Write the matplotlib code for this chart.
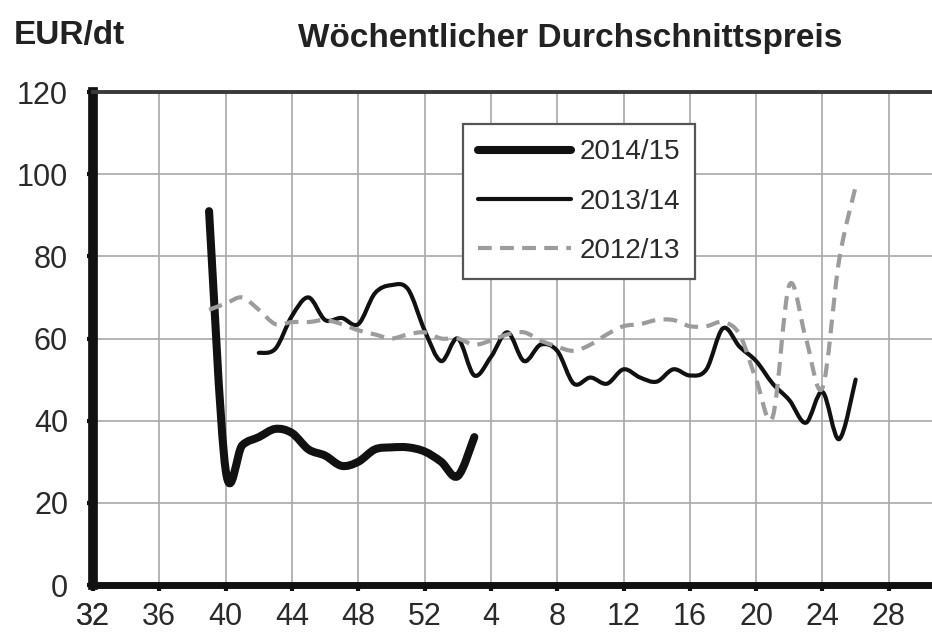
import numpy as np
import matplotlib.pyplot as plt
from matplotlib.path import Path
from matplotlib.patches import PathPatch
from matplotlib.lines import Line2D

plt.rcParams['font.family'] = ['Liberation Sans', 'DejaVu Sans']

# Kalenderwochen, Saison von KW 32 bis KW 30 des Folgejahres
weeks_1415 = [39, 40, 41, 42, 43, 44, 45, 46, 47, 48, 49, 50, 51, 52, 1, 2, 3]
price_1415 = [91, 28, 34, 36, 38, 37, 33, 31.5, 29, 30, 33, 33.5, 33.5, 32.5, 30, 26.5, 36]

weeks_1314 = list(range(42, 53)) + list(range(1, 27))
price_1314 = [56.5, 57.5, 65.5, 70, 64.5, 65, 63.5, 71, 73, 72, 62,
              54.5, 60, 51, 55.5, 61.5, 54.5, 58.5, 57, 49, 50.5, 49, 52.5, 50.5,
              49.5, 52.5, 51, 52.5, 62.5, 58, 54.5, 49, 45, 39.5, 47, 35.5, 50]

weeks_1213 = list(range(39, 53)) + list(range(1, 27))
price_1213 = [67, 68.5, 70, 67, 63.5, 64, 64, 64.5, 63.5, 62, 61, 60, 61, 61.5,
              60, 60, 58.5, 59.5, 61, 61.5, 59.5, 58, 57, 58.5, 61, 63, 63.5,
              64.5, 64.5, 63, 63, 64, 61, 50, 41, 73, 60, 48, 79, 97]

tick_weeks = [32, 36, 40, 44, 48, 52, 4, 8, 12, 16, 20, 24, 28, 32]
y_ticks = [0, 20, 40, 60, 80, 100, 120]


def season_pos(weeks):
    # Wochen des Folgejahres hinter KW 52 anhaengen
    w = np.asarray(weeks)
    return np.where(w < 32, w + 52, w)


def smooth_path(x, y):
    # geglaettete Linie wie in Excel: Bezier-Segmente durch die Wochenwerte
    p = np.column_stack([x, y]).astype(float)
    ext = np.vstack([p[0], p, p[-1]])
    verts = [p[0]]
    codes = [Path.MOVETO]
    for i in range(len(p) - 1):
        c1 = ext[i + 1] + (ext[i + 2] - ext[i]) / 6.0
        c2 = ext[i + 2] - (ext[i + 3] - ext[i + 1]) / 6.0
        verts += [c1, c2, p[i + 1]]
        codes += [Path.CURVE4] * 3
    return Path(verts, codes)


fig = plt.figure(figsize=(9.32, 6.39), dpi=100)
ax = fig.add_axes([0.0998, 0.0845, 0.925, 0.7715])

styles = [
    (weeks_1415, price_1415, dict(color='#111111', lw=5.8, ls='-'), '2014/15', 3),
    (weeks_1314, price_1314, dict(color='#111111', lw=3.0, ls='-'), '2013/14', 4),
    (weeks_1213, price_1213, dict(color='#9c9c9c', lw=3.0, ls=(0, (3.3, 2))), '2012/13', 5),
]
handles = []
for weeks, price, st, lab, z in styles:
    patch = PathPatch(smooth_path(season_pos(weeks), price), fill=False,
                      edgecolor=st['color'], lw=st['lw'], linestyle=st['ls'],
                      capstyle='round' if st['ls'] == '-' else 'butt',
                      joinstyle='round', zorder=z)
    ax.add_patch(patch)
    handles.append(Line2D([], [], color=st['color'], lw=st['lw'], ls=st['ls'],
                          solid_capstyle='round'))

ax.set_xlim(32, 84)
ax.set_ylim(0, 120)
ax.set_xticks(season_pos(tick_weeks))
ax.set_xticklabels([str(w) for w in tick_weeks])
ax.set_yticks(y_ticks)

ax.grid(True, color='#a8a8a8', lw=1.2)
ax.set_axisbelow(True)

ax.spines['left'].set_linewidth(7)
ax.spines['left'].set_color('#111111')
ax.spines['bottom'].set_linewidth(5)
ax.spines['bottom'].set_color('#111111')
ax.spines['top'].set_linewidth(2.8)
ax.spines['top'].set_color('#3a3a3a')
ax.spines['right'].set_visible(False)

ax.tick_params(axis='both', direction='out', length=4, width=3, color='#111111',
               labelsize=22, labelcolor='#2a2a2a')
ax.tick_params(axis='y', pad=14)
ax.tick_params(axis='x', pad=8)

leg = ax.legend(handles, ['2014/15', '2013/14', '2012/13'], loc='upper left',
                bbox_to_anchor=(0.429, 0.935), borderaxespad=0,
                fontsize=20, handlelength=3.35, handletextpad=0.3, labelspacing=0.84,
                borderpad=0.55, fancybox=False, framealpha=1, edgecolor='#555555')
leg.get_frame().set_linewidth(1.6)
for t in leg.get_texts():
    t.set_color('#2a2a2a')

fig.text(0.015, 0.945, 'EUR/dt', fontsize=24, fontweight='bold', color='#222222',
         ha='left', va='center')
fig.text(0.612, 0.94, 'Wöchentlicher Durchschnittspreis', fontsize=24,
         fontweight='bold', color='#222222', ha='center', va='center')

fig.savefig('out.png', dpi=100)
